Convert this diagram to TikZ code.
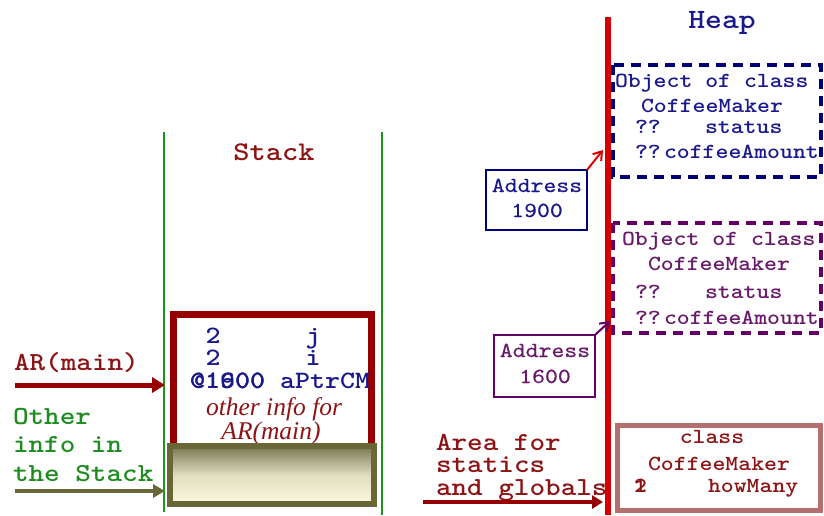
\documentclass[tikz,border=0pt]{standalone}
\usepackage{fontspec}
\newfontfamily\monof[FakeStretch=1.143]{lmmonolt10-bold.otf}
\newfontfamily\monolight[FakeStretch=1.143,FakeBold=0.4]{lmmono10-regular.otf}
\newfontfamily\serff{Liberation Serif}
\usetikzlibrary{arrows.meta}

\definecolor{stackgreen}{RGB}{30,150,30}
\definecolor{labelred}{RGB}{140,20,20}
\definecolor{arred}{RGB}{150,0,0}
\definecolor{heapred}{RGB}{215,0,0}
\definecolor{navytxt}{RGB}{25,25,140}
\definecolor{objnavy}{RGB}{0,0,120}
\definecolor{objpurple}{RGB}{100,0,100}
\definecolor{txtpurple}{RGB}{105,25,105}
\definecolor{olivebd}{RGB}{105,102,55}
\definecolor{olivetop}{RGB}{120,118,80}
\definecolor{cream}{RGB}{251,248,222}
\definecolor{rosy}{RGB}{180,112,112}
\definecolor{othergreen}{RGB}{30,140,30}

\newcommand\fsz[1]{\fontsize{#1}{#1}\selectfont}

\begin{document}
\begin{tikzpicture}[x=1pt,y=-1pt,
  every node/.style={inner sep=0pt, outer sep=0pt},
  mono/.style={font=\monof\fsz{#1}},
  monolt/.style={font=\monolight\fsz{#1}},
  lbl/.style={anchor=base west},
  ctr/.style={anchor=base},
  bigarrow/.style={line width=5pt, -{Triangle[length=13pt,width=15pt]}},
  ptrarrow/.style={line width=2pt, -{Straight Barb[length=8pt,width=11pt]}},
  addrbox/.style={draw, line width=1.3pt},
  objbox/.style={draw, line width=4pt, dash pattern=on 10pt off 7pt},
]
\useasboundingbox (0,0) rectangle (824,515);

% ---------------- Stack ----------------
\draw[stackgreen, line width=1.5pt] (164,132) coordinate (stackL) -- (164,512) coordinate (stackLb);
\draw[stackgreen, line width=1.5pt] (382,132) coordinate (stackR) -- (382,515);
\node[mono=27, labelred, ctr] (stackTitle) at (274,160) {Stack};

% activation record of main
\draw[arred, line width=7pt] (173.5,447) -- (173.5,314.5) -- (371.5,314.5) -- (371.5,447);
\node (arFrame) at (272,380) {};
\node[mono=25, navytxt, ctr] (vj) at (213,343) {2};
\node[mono=25, navytxt, ctr] (nj) at (313,343) {j};
\node[mono=25, navytxt, ctr] (vi) at (213,365) {2};
\node[mono=25, navytxt, ctr] (ni) at (313,365) {i};
\node[mono=25, navytxt, lbl] (vp1) at (190,388) {@1900};
\node[mono=25, navytxt, lbl] (vp2) at (190,388) {@1600};
\node[mono=25, navytxt, lbl] (np) at (280,388) {aPtrCM};
\node[font=\serff\itshape\fsz{25.5}, labelred, ctr] (oi1) at (274,415) {other info for};
\node[font=\serff\itshape\fsz{25.5}, labelred, ctr] (oi2) at (271,439) {AR(main)};

% other info in the stack
\draw[olivebd, line width=6pt, top color=olivetop, bottom color=cream, middle color=cream!80!olivetop]
  (170,446) rectangle (374,504);
\node (otherBox) at (272,475) {};

% left labels and arrows
\node[mono=26, labelred, lbl] (arLbl) at (14,370) {AR(main)};
\coordinate (arTail) at (15,385);
\coordinate (arTip) at (165,385);
\draw[arred, bigarrow] (arTail) -- (arTip);

\node[mono=26, othergreen, lbl] (ot1) at (13,424) {Other};
\node[mono=26, othergreen, lbl] (ot2) at (13,452) {info in};
\node[mono=26, othergreen, lbl] (ot3) at (13,481) {the Stack};
\coordinate (otTail) at (15,491);
\coordinate (otTip) at (165,491);
\draw[olivebd, line width=4pt, -{Triangle[length=12pt,width=13pt]}] (otTail) -- (otTip);

% ---------------- Heap ----------------
\draw[heapred, line width=5.5pt] (608,17) coordinate (heapTop) -- (608,515) coordinate (heapBot);
\node[mono=28, navytxt, ctr] (heapTitle) at (722,28) {Heap};

% object at 1900
\draw[objnavy, objbox] (613,65) rectangle (821,177);
\node (obj1) at (717,121) {};
\node[mono=21.5, navytxt, lbl] at (615,87) {Object of class};
\node[mono=21.5, navytxt, ctr] at (712,112) {CoffeeMaker};
\node[mono=21.5, navytxt, lbl] at (635,133) {??};
\node[mono=21.5, navytxt, lbl] at (705,133) {status};
\node[mono=21.5, navytxt, lbl] at (635,158) {??};
\node[mono=21.5, navytxt, lbl] at (664,158) {coffeeAmount};

% object at 1600
\draw[objpurple, objbox] (613,223) rectangle (821,333);
\node (obj2) at (717,278) {};
\node[mono=21.5, txtpurple, lbl] at (622,245) {Object of class};
\node[mono=21.5, txtpurple, ctr] at (719,270) {CoffeeMaker};
\node[mono=21.5, txtpurple, lbl] at (635,298) {??};
\node[mono=21.5, txtpurple, lbl] at (705,298) {status};
\node[mono=21.5, txtpurple, lbl] at (635,324) {??};
\node[mono=21.5, txtpurple, lbl] at (664,324) {coffeeAmount};

% address boxes
\node[addrbox, objnavy, minimum width=101pt, minimum height=60pt] (addr1) at (536.5,200) {};
\node[monolt=21.5, navytxt, ctr] at (537,192) {Address};
\node[monolt=21.5, navytxt, ctr] at (537,217) {1900};
\coordinate (tip1) at (603,150);
\draw[heapred, ptrarrow] (addr1.north east) -- (tip1);

\node[addrbox, objpurple, minimum width=101pt, minimum height=62pt] (addr2) at (544.5,366) {};
\node[monolt=21.5, txtpurple, ctr] at (545,357) {Address};
\node[monolt=21.5, txtpurple, ctr] at (545,383) {1600};
\coordinate (tip2) at (610,321);
\draw[objpurple, ptrarrow] (addr2.north east) -- (tip2);

% ---------------- statics and globals ----------------
\draw[rosy, line width=5pt] (617.5,425.5) rectangle (820,510);
\node (staticBox) at (718,468) {};
\node[mono=21.5, labelred, ctr] at (712,443) {class};
\node[mono=21.5, labelred, ctr] at (719,470) {CoffeeMaker};
\node[mono=21.5, labelred, lbl] at (634,492) {1};
\node[mono=21.5, labelred, lbl] at (634,492) {2};
\node[mono=21.5, labelred, lbl] at (708,492) {howMany};

\node[mono=26, labelred, lbl] (sg1) at (436,450) {Area for};
\node[mono=26, labelred, lbl] (sg2) at (436,472) {statics};
\node[mono=26, labelred, lbl] (sg3) at (436,495) {and globals};
\coordinate (sgTail) at (423,502);
\coordinate (sgTip) at (603,502);
\draw[arred, line width=4pt, -{Triangle[length=11pt,width=13pt]}] (sgTail) -- (sgTip);
\end{tikzpicture}
\end{document}
